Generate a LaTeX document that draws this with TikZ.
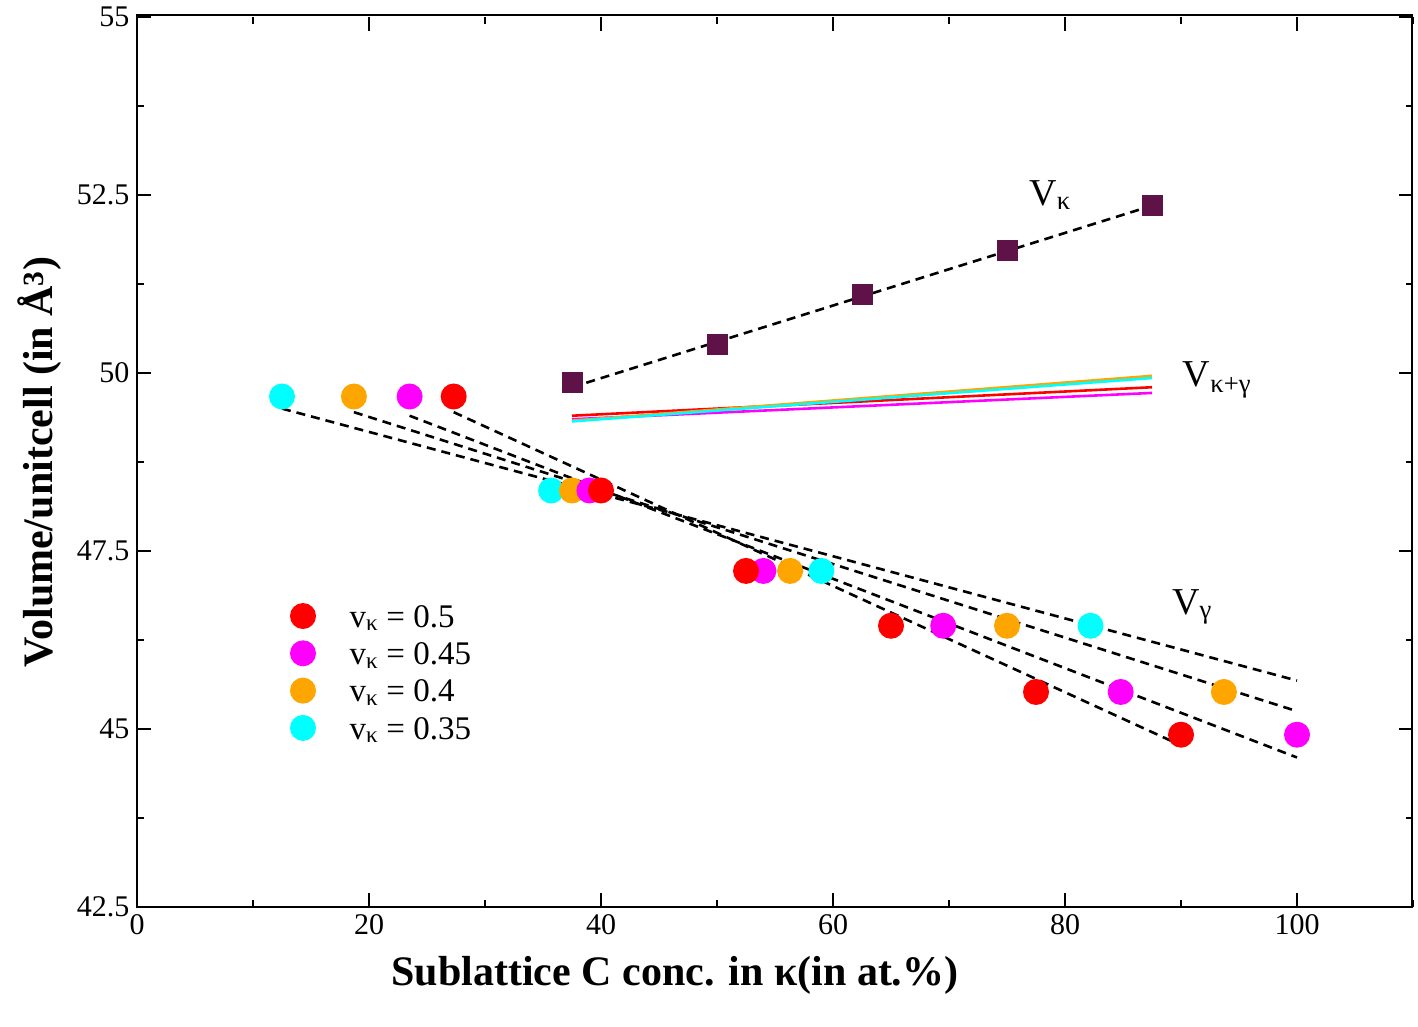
\documentclass[tikz,border=0pt]{standalone}
\usepackage{fontspec}
\setmainfont{Liberation Serif}
\definecolor{cy}{RGB}{0,255,255}
\definecolor{mg}{RGB}{255,0,255}
\definecolor{og}{RGB}{255,165,0}
\definecolor{rd}{RGB}{255,0,0}
\definecolor{sqc}{RGB}{94,18,72}
\begin{document}
\begin{tikzpicture}[x=1pt,y=-1pt,
 dat/.style={line width=2.6pt,dash pattern=on 9pt off 6pt},
 dot/.style={circle,inner sep=0pt,minimum size=26pt},
 sq/.style={fill=sqc,inner sep=0pt,minimum size=21pt},
 tk/.style={font=\fontsize{30}{30}\selectfont,text=black}]
\useasboundingbox (0,0) rectangle (1418,1027);
\newcommand\pt[2]{({137+11.6*(#1)},{373-71.2*((#2)-50)})}
\draw[line width=2pt] (137,15) rectangle (1412,907);
% ticks
\foreach \i in {0,20,...,100}{
 \draw[line width=1.6pt] \pt{\i}{42.5} -- ++(0,-14) \pt{\i}{55} -- ++(0,14);
 \node[tk,below=4pt] at \pt{\i}{42.5} {\i};}
\foreach \i in {10,30,...,110}{
 \draw[line width=1.6pt] \pt{\i}{42.5} -- ++(0,-7) \pt{\i}{55} -- ++(0,7);}
\foreach \v/\l in {42.5/42.5,45/45,47.5/47.5,50/50,52.5/52.5,55/55}{
 \draw[line width=1.6pt] \pt{0}{\v} -- ++(14,0) \pt{110}{\v} -- ++(-14,0);
 \node[tk,left=4pt] at \pt{0}{\v} {\l};}
\foreach \v in {43.75,46.25,48.75,51.25,53.75}{
 \draw[line width=1.6pt] \pt{0}{\v} -- ++(7,0) \pt{110}{\v} -- ++(-7,0);}
\node[font=\bfseries\fontsize{42}{42}\selectfont] at (675,975) {Sublattice C conc. in κ(in at.\%)};
\node[font=\bfseries\fontsize{42}{42}\selectfont,rotate=90] at (40,462) {Volume/unitcell (in Å\textsuperscript{3})};
% V kappa
\draw[dat] \pt{37.5}{49.8} -- \pt{87.5}{52.35};
\foreach \x/\y [count=\k] in {37.5/49.87,50/50.4,62.5/51.1,75/51.72,87.5/52.35}
 \node[sq] (s\k) at \pt{\x}{\y} {};
\node[font=\fontsize{38}{38}\selectfont] at (1050,195) {V\textsubscript{κ}};
% V kappa+gamma
\draw[line width=2.6pt,rd] \pt{37.5}{49.4} -- \pt{87.5}{49.8};
\draw[line width=2.6pt,mg] \pt{37.5}{49.35} -- \pt{87.5}{49.72};
\draw[line width=2.6pt,og] \pt{37.5}{49.33} -- \pt{87.5}{49.96};
\draw[line width=2.6pt,cy] \pt{37.5}{49.32} -- \pt{87.5}{49.93};
\node[font=\fontsize{38}{38}\selectfont] at (1217,380) {V\textsubscript{κ+γ}};
% V gamma fits
\draw[dat] \pt{12.5}{49.5} -- \pt{100}{45.68};
\draw[dat] \pt{18.7}{49.45} -- \pt{100}{45.25};
\draw[dat] \pt{23.5}{49.4} -- \pt{100}{44.6};
\draw[dat] \pt{27.3}{49.45} -- \pt{90}{44.77};
\node[font=\fontsize{38}{38}\selectfont] at (1192,607) {V\textsubscript{γ}};
% dots
\foreach \x/\y [count=\k] in {12.5/49.67,35.7/48.35,59/47.22,82.2/46.45}
 \node[dot,fill=cy] (c\k) at \pt{\x}{\y} {};
\foreach \x/\y [count=\k] in {18.7/49.67,37.5/48.35,56.3/47.22,75/46.45,93.7/45.52}
 \node[dot,fill=og] (o\k) at \pt{\x}{\y} {};
\foreach \x/\y [count=\k] in {23.5/49.67,39/48.35,54/47.22,69.5/46.45,84.8/45.52,100/44.92}
 \node[dot,fill=mg] (m\k) at \pt{\x}{\y} {};
\foreach \x/\y [count=\k] in {27.3/49.67,40/48.35,52.5/47.22,65/46.45,77.5/45.52,90/44.92}
 \node[dot,fill=rd] (r\k) at \pt{\x}{\y} {};
% legend
\foreach \c/\t [count=\k] in {rd/0.5,mg/0.45,og/0.4,cy/0.35}{
 \node[dot,fill=\c] (l\k) at (303,{616+37.3*(\k-1)}) {};
 \node[anchor=west,font=\fontsize{33}{33}\selectfont] (lt\k) at (346,{618+37.3*(\k-1)}) {v\textsubscript{κ} = \t};}
\end{tikzpicture}
\end{document}
